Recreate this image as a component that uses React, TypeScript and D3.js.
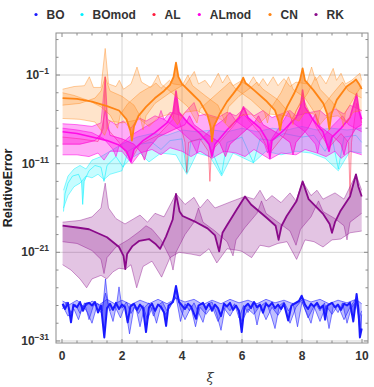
import React from "react";
import * as d3 from "d3";

// series names and colours (legend order = draw order)
const names = ["BO", "BOmod", "AL", "ALmod", "CN", "RK"];
const colors = ["#1a1aff", "#00f0ff", "#ff1a3c", "#ff00e6", "#ff8414", "#8a0a8a"];

const xTicks = [0, 2, 4, 6, 8, 10];
const yTickExps = [-31, -21, -11, -1];

// values are log10(relative error)
const boMain = [[0.02,-26.8],[0.1,-27.4],[0.2,-26.7],[0.3,-28.9],[0.38,-26.9],[0.5,-27.2],[0.6,-26.6],[0.7,-27.6],[0.8,-26.8],[0.9,-26.7],[1.0,-27.0],[1.1,-26.6],[1.2,-27.8],[1.3,-27.0],[1.41,-30.6],[1.5,-27.3],[1.6,-26.8],[1.7,-27.5],[1.8,-26.7],[1.9,-27.4],[2.0,-26.9],[2.1,-27.2],[2.19,-28.9],[2.28,-27.1],[2.4,-26.8],[2.5,-27.5],[2.6,-26.9],[2.7,-27.3],[2.8,-30.0],[2.9,-27.2],[3.0,-26.8],[3.1,-27.6],[3.2,-26.9],[3.3,-27.2],[3.4,-27.8],[3.47,-29.3],[3.55,-27.0],[3.7,-26.6],[3.8,-24.8],[3.9,-26.6],[4.0,-27.0],[4.1,-27.4],[4.2,-26.8],[4.3,-27.1],[4.47,-28.5],[4.55,-27.0],[4.7,-26.7],[4.8,-27.4],[4.9,-26.8],[5.0,-27.6],[5.1,-26.9],[5.2,-27.3],[5.3,-28.2],[5.4,-26.8],[5.5,-27.1],[5.6,-26.7],[5.7,-27.5],[5.8,-27.0],[5.9,-27.6],[5.99,-30.0],[6.08,-27.2],[6.2,-26.8],[6.3,-27.3],[6.4,-26.6],[6.5,-27.2],[6.6,-26.9],[6.7,-27.8],[6.8,-26.8],[6.9,-27.1],[7.0,-26.7],[7.1,-27.3],[7.2,-26.9],[7.3,-27.4],[7.4,-26.8],[7.54,-28.7],[7.65,-27.0],[7.8,-26.7],[7.9,-26.5],[7.99,-25.9],[8.1,-26.9],[8.2,-27.4],[8.3,-26.8],[8.4,-27.1],[8.5,-26.7],[8.6,-27.3],[8.7,-27.0],[8.77,-28.6],[8.85,-27.0],[9.0,-26.7],[9.1,-27.2],[9.2,-26.9],[9.3,-27.5],[9.4,-26.8],[9.5,-27.0],[9.6,-26.7],[9.71,-28.8],[9.78,-26.9],[9.82,-25.7],[9.88,-27.4],[9.93,-30.6],[9.99,-29.6]];
const boLight1 = [[0.02,-27.4],[0.15,-26.6],[0.3,-27.8],[0.45,-26.9],[0.6,-27.9],[0.75,-26.7],[0.9,-28.6],[1.05,-27.0],[1.2,-26.8],[1.35,-27.6],[1.45,-24.0],[1.55,-27.2],[1.7,-28.8],[1.82,-26.9],[1.9,-24.9],[2.0,-27.3],[2.15,-26.6],[2.3,-27.9],[2.45,-27.0],[2.6,-29.4],[2.75,-27.2],[2.9,-26.7],[3.05,-28.2],[3.2,-27.0],[3.35,-26.6],[3.5,-27.6],[3.65,-26.9],[3.8,-26.0],[3.95,-28.8],[4.1,-26.8],[4.25,-27.6],[4.4,-26.7],[4.55,-27.8],[4.7,-28.9],[4.85,-26.9],[5.0,-26.6],[5.15,-27.9],[5.3,-29.8],[5.45,-27.0],[5.6,-27.6],[5.75,-26.8],[5.9,-28.4],[6.05,-27.0],[6.2,-27.8],[6.35,-26.7],[6.5,-29.2],[6.65,-27.0],[6.8,-26.6],[6.95,-27.9],[7.1,-29.6],[7.25,-27.0],[7.4,-26.6],[7.55,-27.6],[7.7,-26.7],[7.85,-29.4],[8.0,-26.6],[8.15,-27.8],[8.3,-29.0],[8.45,-26.8],[8.6,-27.6],[8.75,-26.7],[8.9,-29.6],[9.05,-27.0],[9.2,-27.8],[9.35,-26.7],[9.5,-29.0],[9.65,-27.2],[9.8,-26.6],[9.9,-28.4],[9.99,-27.6]];
const boLight2 = [[0.02,-27.0],[0.2,-28.2],[0.4,-27.4],[0.55,-28.6],[0.7,-27.0],[0.85,-27.8],[1.0,-29.0],[1.15,-27.2],[1.3,-27.8],[1.45,-25.6],[1.6,-27.6],[1.75,-27.0],[1.95,-28.4],[2.1,-27.0],[2.25,-30.2],[2.4,-27.2],[2.55,-27.9],[2.7,-27.0],[2.85,-28.6],[3.0,-27.2],[3.15,-29.0],[3.3,-27.0],[3.45,-28.0],[3.6,-27.2],[3.8,-25.4],[3.95,-27.4],[4.1,-28.6],[4.3,-27.2],[4.45,-29.4],[4.6,-27.2],[4.8,-28.0],[5.0,-27.1],[5.2,-28.8],[5.4,-27.3],[5.6,-28.2],[5.8,-27.0],[6.0,-28.8],[6.2,-27.4],[6.4,-28.0],[6.6,-27.0],[6.8,-28.6],[7.0,-27.2],[7.2,-28.1],[7.4,-27.0],[7.6,-29.0],[7.8,-27.2],[7.99,-26.4],[8.2,-28.4],[8.4,-27.1],[8.6,-28.8],[8.8,-27.0],[9.0,-28.0],[9.2,-27.0],[9.4,-28.6],[9.6,-27.2],[9.8,-26.2],[9.93,-29.8],[9.99,-28.0]];
const boLight3 = [[0.02,-26.5],[0.25,-26.9],[0.5,-26.4],[0.75,-27.2],[1.0,-26.5],[1.25,-26.9],[1.5,-26.3],[1.75,-26.8],[2.0,-26.4],[2.3,-26.9],[2.6,-26.4],[2.9,-26.8],[3.2,-26.3],[3.5,-26.8],[3.8,-26.2],[4.1,-26.6],[4.4,-26.3],[4.7,-26.9],[5.0,-26.4],[5.3,-26.8],[5.6,-26.3],[5.9,-26.7],[6.2,-26.4],[6.5,-26.8],[6.8,-26.3],[7.1,-26.7],[7.4,-26.4],[7.7,-26.8],[8.0,-26.2],[8.3,-26.6],[8.6,-26.3],[8.9,-26.8],[9.2,-26.4],[9.5,-26.7],[9.8,-26.3],[9.99,-26.8]];

const bmMain = [[0.05,-16.4],[0.1,-14.4],[0.2,-13.2],[0.35,-12.4],[0.55,-12.2],[0.65,-13.0],[0.69,-15.6],[0.74,-13.0],[0.9,-11.8],[1.1,-11.2],[1.3,-11.4],[1.4,-13.0],[1.5,-11.2],[1.8,-10.2],[2.04,-11.4],[2.2,-9.6],[2.6,-8.8],[3.0,-8.6],[3.3,-9.4],[3.6,-8.4],[4.0,-8.2],[4.16,-12.0],[4.3,-8.4],[4.8,-8.2],[5.0,-9.6],[5.32,-12.2],[5.5,-8.6],[6.0,-8.0],[6.38,-10.9],[6.6,-8.2],[7.0,-8.4],[7.4,-7.6],[8.0,-8.0],[8.4,-7.8],[8.77,-9.6],[9.0,-8.0],[9.21,-11.6],[9.4,-8.0],[9.8,-7.8],[9.99,-8.6]];
const bmHigh = [[0.05,-14.0],[0.2,-12.4],[0.4,-11.6],[0.6,-11.2],[0.8,-11.6],[1.0,-10.6],[1.3,-10.2],[1.6,-9.6],[2.0,-8.8],[2.5,-8.0],[3.0,-7.6],[3.5,-7.8],[4.0,-7.2],[4.5,-7.4],[5.0,-7.2],[5.5,-7.4],[6.0,-7.0],[6.5,-7.4],[7.0,-7.0],[7.5,-7.2],[8.0,-6.8],[8.5,-7.2],[9.0,-7.0],[9.5,-7.2],[9.99,-7.0]];
const bmLow = [[0.05,-16.0],[0.2,-14.6],[0.4,-13.6],[0.6,-13.2],[0.8,-12.4],[1.0,-12.6],[1.2,-12.2],[1.4,-12.8],[1.6,-12.2],[2.0,-11.8],[2.04,-11.3],[2.3,-10.4],[2.6,-9.8],[2.9,-10.8],[3.3,-9.8],[3.8,-10.0],[4.16,-12.2],[4.5,-9.8],[4.93,-10.2],[5.32,-12.4],[5.7,-9.8],[6.38,-10.9],[6.8,-9.6],[7.3,-10.0],[7.8,-9.6],[8.3,-9.8],[8.77,-10.4],[9.21,-11.8],[9.6,-9.6],[9.99,-9.8]];

const alMain = [[0.02,-8.0],[0.6,-8.2],[1.2,-8.5],[1.38,-7.0],[1.44,-1.2],[1.5,-7.0],[1.9,-8.6],[2.3,-10.6],[2.6,-8.8],[3.2,-7.8],[3.7,-6.0],[3.8,-3.6],[3.9,-6.0],[4.1,-8.6],[4.16,-12.0],[4.22,-8.6],[4.6,-8.2],[4.88,-9.6],[4.93,-13.0],[4.98,-9.6],[5.5,-7.6],[6.05,-5.4],[6.6,-7.6],[6.93,-9.8],[7.4,-7.8],[8.02,-3.6],[8.5,-7.0],[8.9,-9.2],[9.3,-7.6],[9.55,-8.6],[9.6,-14.5],[9.65,-8.6],[9.82,-4.2],[9.99,-6.4]];

const amMain = [[0.02,-7.4],[0.5,-7.6],[1.0,-8.0],[1.5,-8.4],[1.9,-8.9],[2.15,-9.6],[2.3,-10.8],[2.4,-9.4],[2.7,-8.4],[3.1,-7.5],[3.5,-6.4],[3.7,-5.2],[3.8,-2.8],[3.9,-5.2],[4.2,-6.4],[4.6,-7.6],[4.9,-8.8],[5.0,-10.2],[5.1,-8.8],[5.5,-7.2],[5.9,-5.8],[6.05,-4.6],[6.2,-5.8],[6.6,-7.0],[6.85,-8.4],[6.93,-10.4],[7.0,-8.4],[7.4,-7.2],[7.8,-5.8],[7.95,-4.6],[8.02,-2.7],[8.1,-4.6],[8.4,-6.2],[8.7,-7.4],[8.9,-9.6],[9.0,-8.0],[9.3,-7.0],[9.6,-5.8],[9.82,-3.1],[9.9,-5.0],[9.99,-6.0]];
const amHigh = [[0.02,-6.5],[0.5,-6.6],[1.0,-6.8],[1.3,-6.4],[1.44,-1.2],[1.52,-6.0],[1.8,-6.6],[2.05,-6.2],[2.3,-7.0],[2.55,-5.8],[2.8,-6.2],[3.1,-5.6],[3.4,-6.0],[3.6,-5.2],[4.0,-5.6],[4.4,-4.1],[4.55,-5.6],[4.8,-5.4],[5.2,-5.8],[5.5,-5.2],[5.8,-5.6],[6.1,-4.7],[6.4,-5.6],[6.7,-5.0],[7.0,-5.8],[7.3,-5.4],[7.6,-5.0],[7.8,-5.6],[8.3,-5.2],[8.6,-5.0],[8.8,-5.6],[9.1,-4.8],[9.4,-5.4],[9.6,-4.4],[9.99,-5.0]];
const amLow = [[0.02,-10.0],[0.5,-10.0],[0.9,-10.2],[1.2,-9.8],[1.4,-10.6],[1.6,-9.6],[2.0,-9.6],[2.33,-11.0],[2.6,-9.8],[3.0,-9.4],[3.3,-10.0],[3.6,-9.2],[4.0,-9.6],[4.3,-10.2],[4.6,-9.6],[5.0,-10.4],[5.4,-9.6],[5.8,-9.8],[6.1,-10.2],[6.4,-9.4],[6.93,-10.5],[7.3,-9.8],[7.8,-10.0],[8.1,-9.4],[8.5,-9.8],[8.8,-10.2],[9.1,-9.6],[9.3,-10.4],[9.6,-9.6],[9.99,-10.0]];
const amMid = [[0.02,-8.8],[0.6,-8.8],[1.1,-8.4],[1.3,-7.6],[1.44,-5.0],[1.6,-7.8],[2.0,-8.2],[2.4,-8.8],[2.65,-9.8],[2.75,-10.6],[2.85,-9.4],[3.2,-8.0],[3.7,-7.2],[4.1,-6.6],[4.25,-5.6],[4.4,-6.6],[4.8,-7.6],[5.25,-8.6],[5.45,-10.2],[5.6,-8.8],[6.0,-7.6],[6.4,-6.4],[6.55,-5.6],[6.7,-6.6],[7.2,-7.6],[7.6,-8.6],[7.7,-10.0],[7.8,-8.6],[8.2,-7.0],[8.45,-5.4],[8.6,-6.8],[9.0,-7.8],[9.3,-8.8],[9.4,-10.0],[9.5,-8.6],[9.8,-7.0],[9.99,-6.6]];
const amMid2 = [[0.02,-7.0],[0.5,-7.2],[1.0,-7.5],[1.4,-8.2],[1.7,-9.4],[1.8,-10.2],[1.9,-9.0],[2.3,-7.8],[2.8,-6.8],[3.2,-6.0],[3.3,-5.0],[3.4,-6.0],[3.9,-7.2],[4.3,-8.4],[4.5,-9.8],[4.6,-8.4],[5.0,-7.0],[5.4,-6.0],[5.6,-5.2],[5.8,-6.2],[6.3,-7.4],[6.75,-8.8],[6.85,-9.8],[6.95,-8.4],[7.3,-6.6],[7.55,-5.2],[7.7,-6.4],[8.1,-7.4],[8.45,-8.8],[8.52,-9.8],[8.6,-8.4],[9.0,-6.8],[9.35,-5.6],[9.55,-6.6],[9.99,-7.4]];

const cnMain = [[0.02,-3.6],[0.5,-3.7],[1.0,-4.0],[1.5,-4.5],[1.9,-5.0],[2.15,-6.0],[2.28,-7.3],[2.33,-8.4],[2.4,-6.8],[2.55,-5.6],[2.8,-4.6],[3.1,-3.6],[3.4,-2.8],[3.6,-2.1],[3.72,-1.2],[3.8,0.4],[3.88,-1.2],[4.0,-2.0],[4.3,-3.0],[4.6,-4.0],[4.85,-5.5],[4.95,-6.8],[5.0,-8.5],[5.06,-6.8],[5.27,-5.3],[5.5,-4.0],[5.71,-3.1],[5.95,-2.0],[6.04,-1.3],[6.12,-1.9],[6.4,-2.7],[6.8,-3.9],[7.1,-5.0],[7.22,-6.2],[7.27,-7.2],[7.33,-6.0],[7.5,-4.6],[7.75,-3.0],[7.93,-1.6],[8.02,-0.25],[8.1,-1.6],[8.38,-2.7],[8.71,-4.2],[8.84,-5.4],[8.91,-7.1],[8.98,-5.4],[9.16,-3.8],[9.49,-2.3],[9.7,-1.8],[9.8,-1.5],[9.9,-2.0],[9.99,-2.6]];
const cnHigh = [[0.02,-2.6],[0.4,-2.3],[0.75,-2.2],[0.91,-1.2],[1.05,-2.4],[1.3,-2.4],[1.44,2.0],[1.55,-2.0],[1.8,-2.3],[1.91,-1.6],[2.05,-2.6],[2.3,-2.0],[2.5,-0.1],[2.65,-1.8],[2.95,-2.4],[3.13,-1.9],[3.3,-2.5],[3.58,-1.6],[3.7,-2.0],[4.1,-2.2],[4.41,-0.6],[4.55,-2.0],[4.77,-1.6],[4.95,-2.4],[5.21,-0.8],[5.35,-1.9],[5.51,-1.0],[5.7,-2.2],[5.95,-1.7],[6.2,-2.2],[6.38,-1.2],[6.55,-2.2],[6.7,-1.4],[6.85,-2.2],[7.04,-1.2],[7.2,-2.2],[7.4,-1.4],[7.6,-2.3],[7.8,-1.8],[8.15,-2.0],[8.32,-0.1],[8.45,-1.6],[8.6,-1.0],[8.8,-2.0],[9.04,-0.25],[9.15,-1.6],[9.3,-0.8],[9.45,-2.0],[9.65,-1.6],[9.93,-0.8],[9.99,-1.6]];
const cnLow = [[0.02,-5.9],[0.6,-6.0],[1.1,-6.3],[1.42,-7.8],[1.6,-6.2],[2.0,-6.4],[2.6,-6.0],[2.9,-6.8],[3.2,-5.8],[3.6,-5.4],[3.85,-6.6],[4.1,-5.2],[4.5,-5.0],[4.8,-5.6],[5.3,-6.0],[5.6,-7.0],[5.9,-5.6],[6.3,-5.4],[6.6,-6.4],[6.9,-5.4],[7.5,-5.6],[7.9,-6.2],[8.1,-5.2],[8.4,-5.4],[8.6,-6.6],[8.8,-5.8],[9.2,-5.6],[9.5,-6.4],[9.7,-5.2],[9.99,-5.0]];
const cnMidA = [[0.02,-4.4],[0.6,-4.2],[1.1,-3.6],[1.3,-2.8],[1.44,-1.2],[1.6,-2.8],[2.0,-3.4],[2.4,-4.4],[2.6,-5.6],[2.7,-7.2],[2.8,-5.6],[3.1,-4.2],[3.6,-3.0],[4.0,-2.2],[4.2,-1.0],[4.35,-2.2],[4.8,-3.4],[5.2,-4.4],[5.45,-6.4],[5.55,-4.6],[5.9,-3.4],[6.3,-2.4],[6.5,-1.8],[6.7,-2.6],[7.2,-3.8],[7.6,-5.4],[7.7,-6.6],[7.8,-5.0],[8.2,-3.0],[8.45,-1.2],[8.6,-2.6],[9.0,-4.0],[9.3,-5.6],[9.38,-6.8],[9.45,-5.2],[9.8,-3.2],[9.99,-2.2]];
const cnMidB = [[0.02,-3.0],[0.4,-3.3],[0.9,-3.9],[1.3,-4.6],[1.6,-5.5],[1.85,-7.0],[1.95,-5.4],[2.2,-4.2],[2.6,-3.0],[3.0,-2.2],[3.2,-1.0],[3.3,-2.0],[3.8,-3.4],[4.2,-4.6],[4.5,-6.4],[4.6,-4.8],[5.0,-3.6],[5.4,-2.4],[5.6,-1.8],[5.8,-2.6],[6.3,-3.8],[6.75,-5.2],[6.85,-6.4],[6.95,-4.8],[7.3,-3.0],[7.55,-1.2],[7.7,-2.6],[8.1,-3.6],[8.45,-5.4],[8.52,-6.6],[8.6,-5.0],[9.0,-3.2],[9.35,-1.8],[9.55,-2.8],[9.99,-3.6]];

const rkMain = [[0.02,-18.0],[0.5,-18.2],[0.9,-18.4],[1.5,-19.3],[1.9,-20.4],[2.05,-21.4],[2.11,-22.9],[2.17,-21.2],[2.35,-20.3],[2.58,-19.7],[2.9,-19.5],[3.13,-20.1],[3.27,-20.6],[3.47,-19.2],[3.69,-17.3],[3.8,-14.4],[3.92,-16.4],[4.02,-16.9],[4.47,-17.6],[4.85,-18.3],[5.1,-19.1],[5.24,-20.9],[5.35,-18.8],[5.49,-18.0],[5.82,-16.2],[6.1,-14.7],[6.3,-15.6],[6.82,-17.1],[7.12,-18.0],[7.22,-19.6],[7.32,-18.0],[7.49,-16.9],[7.82,-15.2],[8.02,-13.0],[8.22,-15.0],[8.71,-16.7],[8.92,-17.8],[9.0,-18.8],[9.1,-17.6],[9.27,-16.4],[9.6,-14.7],[9.8,-12.2],[9.88,-13.6],[9.99,-14.7]];
const rkHigh = [[0.02,-17.6],[0.6,-17.4],[1.0,-17.0],[1.3,-16.0],[1.44,-13.2],[1.55,-16.0],[1.8,-17.2],[2.1,-17.8],[2.4,-17.2],[2.6,-16.8],[2.85,-17.6],[3.1,-16.6],[3.4,-17.0],[3.8,-14.4],[4.1,-15.6],[4.4,-14.8],[4.6,-16.0],[4.85,-15.0],[5.1,-16.0],[5.4,-15.6],[5.7,-15.2],[6.1,-14.7],[6.4,-15.0],[6.6,-14.0],[6.8,-15.2],[7.0,-14.6],[7.3,-15.4],[7.6,-14.3],[7.8,-15.2],[8.02,-13.0],[8.3,-14.6],[8.5,-14.0],[8.7,-15.0],[9.1,-14.3],[9.4,-15.0],[9.8,-12.2],[9.99,-14.0]];
const rkLow = [[0.02,-22.4],[0.3,-23.0],[0.6,-24.0],[0.82,-25.0],[1.0,-24.0],[1.3,-23.6],[1.49,-24.0],[1.7,-23.2],[1.9,-22.8],[2.11,-22.9],[2.3,-22.4],[2.49,-25.0],[2.7,-22.6],[3.0,-22.0],[3.32,-23.8],[3.6,-21.6],[3.9,-21.0],[4.3,-21.2],[4.6,-21.4],[4.9,-20.6],[5.16,-22.2],[5.5,-20.6],[5.9,-20.8],[6.0,-20.9],[6.32,-21.6],[6.6,-20.2],[6.9,-20.4],[7.2,-20.0],[7.5,-19.8],[7.82,-21.8],[8.1,-19.6],[8.4,-19.8],[8.7,-20.4],[9.0,-19.6],[9.29,-19.5],[9.6,-18.8],[9.99,-18.6]];
const rkMid = [[0.02,-19.8],[0.5,-20.0],[1.0,-20.8],[1.3,-21.8],[1.4,-23.4],[1.5,-21.6],[1.8,-20.4],[2.2,-19.6],[2.6,-18.6],[2.8,-18.0],[3.0,-18.4],[3.3,-19.6],[3.6,-21.6],[3.7,-23.0],[3.8,-21.0],[4.1,-19.0],[4.4,-17.6],[4.55,-16.0],[4.7,-17.6],[5.1,-18.6],[5.5,-19.8],[5.7,-21.4],[5.8,-19.6],[6.1,-18.2],[6.5,-16.6],[6.65,-15.2],[6.8,-16.6],[7.2,-17.6],[7.6,-18.6],[7.8,-20.2],[7.95,-18.4],[8.3,-17.0],[8.55,-15.2],[8.7,-16.4],[9.1,-17.2],[9.4,-18.0],[9.5,-19.6],[9.6,-17.6],[9.99,-16.6]];

// per series: main curve + lighter companion curves
const seriesData = [
  { main: boMain, others: [boLight1, boLight2, boLight3], fill: 0.28, light: 0.55, mw: 2, mo: 1 },
  { main: bmMain, others: [bmHigh, bmLow], fill: 0.22, light: 0.45, mw: 1, mo: 0.55 },
  { main: alMain, others: [amMid], fill: 0.12, light: 0.2, mw: 1, mo: 0.45 },
  { main: amMain, others: [amHigh, amLow, amMid, amMid2], fill: 0.32, light: 0.55, mw: 1.6, mo: 0.9 },
  { main: cnMain, others: [cnHigh, cnLow, cnMidA, cnMidB], fill: 0.22, light: 0.4, mw: 1.8, mo: 1 },
  { main: rkMain, others: [rkHigh, rkLow, rkMid], fill: 0.24, light: 0.4, mw: 1.8, mo: 1 },
];

const W = 374, H = 387;
const left = 56, right = 368, top = 33, bottom = 343;

export default function App() {
  const x = d3.scaleLinear().domain([-0.2, 10.2]).range([left, right]);
  const y = d3.scaleLog().domain([Math.pow(10, -31.23), Math.pow(10, 3.74)]).range([bottom, top]);

  const pt = (d: number[]) => [x(d[0]), y(Math.pow(10, d[1]))] as [number, number];
  const line = d3.line<number[]>().x((d) => pt(d)[0]).y((d) => pt(d)[1]);
  const band = (a: number[][], b: number[][]) =>
    "M" + a.map((d) => pt(d).join(",")).join("L") + "L" + [...b].reverse().map((d) => pt(d).join(",")).join("L") + "Z";

  const minorX = d3.range(0, 10.01, 0.5).filter((v) => !xTicks.includes(v));
  const minorY = d3.range(-31, 4, 2).filter((v) => !yTickExps.includes(v));
  const frame = "#8c8c8c";
  const font = "Liberation Sans, Arial, sans-serif";

  return (
    <svg width={W} height={H} style={{ position: "absolute", left: 0, top: 0, background: "#fff" }}>
      <defs>
        <clipPath id="plot">
          <rect x={left} y={top} width={right - left} height={bottom - top} />
        </clipPath>
      </defs>

      {/* grid */}
      {xTicks.slice(1, -1).map((t) => (
        <line key={"gx" + t} x1={x(t)} x2={x(t)} y1={top} y2={bottom} stroke="#d6d6d6" strokeWidth={1} />
      ))}
      {yTickExps.map((e) => (
        <line key={"gy" + e} x1={left} x2={right} y1={y(Math.pow(10, e))} y2={y(Math.pow(10, e))} stroke="#d6d6d6" strokeWidth={1} />
      ))}

      <g clipPath="url(#plot)">
        {seriesData.map((s, i) => (
          <g key={names[i]}>
            {s.others.map((o, j) => (
              <path key={"f" + j} d={band(s.main, o)} fill={colors[i]} fillOpacity={s.fill} stroke="none" />
            ))}
            {s.others.map((o, j) => (
              <path key={"l" + j} d={line(o) || ""} fill="none" stroke={colors[i]} strokeOpacity={s.light} strokeWidth={1} strokeLinejoin="round" />
            ))}
            <path d={line(s.main) || ""} fill="none" stroke={colors[i]} strokeOpacity={s.mo} strokeWidth={s.mw} strokeLinejoin="round" />
          </g>
        ))}
      </g>

      {/* frame and ticks */}
      <rect x={left} y={top} width={right - left} height={bottom - top} fill="none" stroke={frame} strokeWidth={1} />
      {xTicks.map((t) => (
        <g key={"tx" + t}>
          <line x1={x(t)} x2={x(t)} y1={bottom} y2={bottom - 4} stroke={frame} />
          <line x1={x(t)} x2={x(t)} y1={top} y2={top + 4} stroke={frame} />
          <text x={x(t)} y={360} textAnchor="middle" fontFamily={font} fontWeight="bold" fontSize={12} fill="#333">{t}</text>
        </g>
      ))}
      {minorX.map((t) => (
        <g key={"mx" + t}>
          <line x1={x(t)} x2={x(t)} y1={bottom} y2={bottom - 2.5} stroke={frame} />
          <line x1={x(t)} x2={x(t)} y1={top} y2={top + 2.5} stroke={frame} />
        </g>
      ))}
      {yTickExps.map((e) => {
        const yy = y(Math.pow(10, e));
        return (
          <g key={"ty" + e}>
            <line x1={left} x2={left + 4} y1={yy} y2={yy} stroke={frame} />
            <line x1={right} x2={right - 4} y1={yy} y2={yy} stroke={frame} />
            <text x={49} y={yy + 4} textAnchor="end" fontFamily={font} fontWeight="bold" fontSize={12} fill="#333">
              10<tspan dy={-5} fontSize={8.5}>{"\u2212" + Math.abs(e)}</tspan>
            </text>
          </g>
        );
      })}
      {minorY.map((e) => {
        const yy = y(Math.pow(10, e));
        return (
          <g key={"my" + e}>
            <line x1={left} x2={left + 2.5} y1={yy} y2={yy} stroke={frame} />
            <line x1={right} x2={right - 2.5} y1={yy} y2={yy} stroke={frame} />
          </g>
        );
      })}

      {/* axis labels */}
      <text x={210} y={382} textAnchor="middle" fontFamily="DejaVu Serif, serif" fontStyle="italic" fontSize={13} fill="#333">ξ</text>
      <text transform="translate(12,188) rotate(-90)" textAnchor="middle" fontFamily={font} fontWeight="bold" fontSize={12.5} fill="#222">RelativeError</text>

      {/* legend */}
      {names.map((n, i) => {
        const lx = [36, 82, 154, 199.3, 270, 316][i];
        return (
          <g key={"lg" + n}>
            <circle cx={lx} cy={14.5} r={1.6} fill={colors[i]} />
            <text x={lx + 10.5} y={18.5} fontFamily={font} fontWeight="bold" fontSize={12} fill="#333">{n}</text>
          </g>
        );
      })}
    </svg>
  );
}
